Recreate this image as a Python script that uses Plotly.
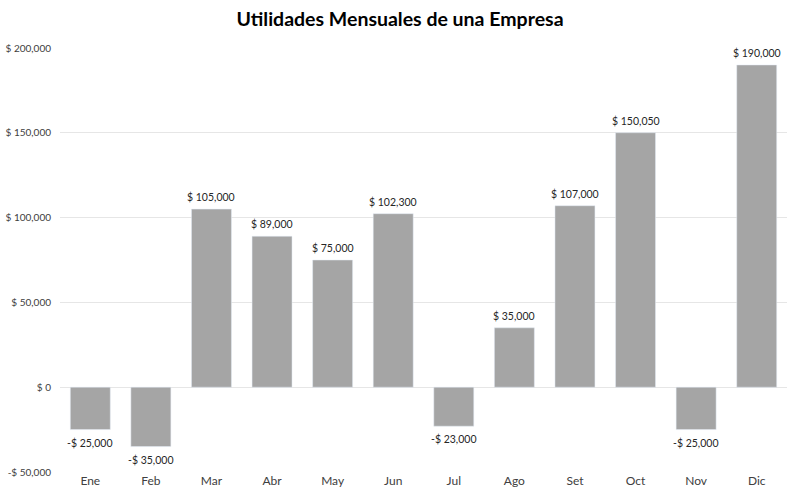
import plotly.graph_objects as go

meses = ["Ene", "Feb", "Mar", "Abr", "May", "Jun", "Jul", "Ago", "Set", "Oct", "Nov", "Dic"]
utilidades = [-25000, -35000, 105000, 89000, 75000, 102300, -23000, 35000, 107000, 150050, -25000, 190000]
tick_vals = [-50000, 0, 50000, 100000, 150000, 200000]
tick_text = ["-$ 50,000", "$ 0", "$ 50,000", "$ 100,000", "$ 150,000", "$ 200,000"]

def fmt(v):
    s = "$ {:,}".format(abs(v))
    return "-" + s if v < 0 else s

fig = go.Figure(go.Bar(
    x=meses, y=utilidades,
    marker_color="#A5A5A5",
    cliponaxis=False,
))

for m, v in zip(meses, utilidades):
    fig.add_annotation(
        x=m, y=v, text=fmt(v), showarrow=False,
        yanchor="bottom" if v >= 0 else "top",
        yshift=4 if v >= 0 else -5,
        font=dict(size=10.5, color="#262626"),
    )

fig.update_layout(
    width=800, height=504,
    margin=dict(l=60, r=13, t=48, b=32),
    paper_bgcolor="white", plot_bgcolor="white",
    font=dict(family="Lato, Open Sans, sans-serif", color="#404040"),
    title=dict(text="<b>Utilidades Mensuales de una Empresa</b>", x=0.5, xanchor="center",
               y=0.975, yanchor="top", font=dict(size=19.5, color="#000000")),
    bargap=0.34,
    showlegend=False,
    xaxis=dict(tickfont=dict(size=12, color="#404040"), showline=False, ticks="", automargin=False),
    yaxis=dict(range=[-50000, 200000], tickvals=tick_vals, ticktext=tick_text,
               tickfont=dict(size=10, color="#404040"), gridcolor="#E6E6E6",
               zeroline=False, showline=False, ticks="", ticklabelstandoff=8, automargin=False),
)

fig.write_html("out.html")
